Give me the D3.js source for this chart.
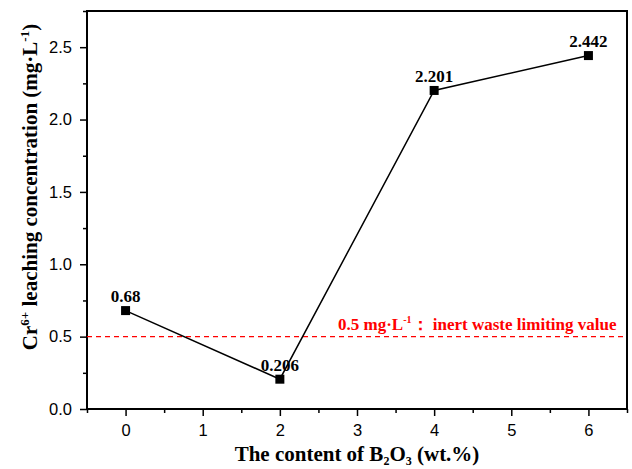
<!DOCTYPE html>
<html><head><meta charset="utf-8">
<script src="https://cdn.jsdelivr.net/npm/d3@7"></script>
<style>body{margin:0;background:#fff}</style>
</head><body>
<script>
const xValues = [0, 2, 4, 6];
const yValues = [0.68, 0.206, 2.201, 2.442];
const pointLabels = ["0.68", "0.206", "2.201", "2.442"];
const xTicks = [0, 1, 2, 3, 4, 5, 6];
const yTicks = [0.0, 0.5, 1.0, 1.5, 2.0, 2.5];
const limitValue = 0.5;

const W = 632, H = 469;
const m = {l: 87, r: 5, t: 11, b: 60};
const svg = d3.select("body").append("svg").attr("width", W).attr("height", H);
const x = d3.scaleLinear().domain([-0.5, 6.5]).range([m.l, W - m.r]);
const y = d3.scaleLinear().domain([0, 2.75]).range([H - m.b, m.t]);

const gx = svg.append("g").attr("transform", `translate(0,${H - m.b})`);
gx.call(d3.axisBottom(x).tickValues(d3.range(-0.5, 6.51, 0.5)).tickSize(4).tickFormat(""));
gx.call(g => g.selectAll(".tick").filter(d => Number.isInteger(d)).select("line").attr("y2", 7));
gx.append("g").call(d3.axisBottom(x).tickValues(xTicks).tickSize(0).tickPadding(15).tickFormat(d3.format("d")));
const gy = svg.append("g").attr("transform", `translate(${m.l},0)`);
gy.call(d3.axisLeft(y).tickValues(d3.range(0, 2.751, 0.25)).tickSize(4).tickFormat(""));
gy.call(g => g.selectAll(".tick").filter(d => Math.abs(d*2 - Math.round(d*2)) < 1e-6).select("line").attr("x2", -7));
gy.append("g").call(d3.axisLeft(y).tickValues(yTicks).tickSize(0).tickPadding(15).tickFormat(d3.format(".1f")));
svg.selectAll(".domain").remove();
svg.selectAll(".tick line").attr("stroke", "#000").attr("stroke-width", 1.5);
svg.selectAll(".tick text").attr("font-family", "Liberation Sans, Arial").attr("font-size", 16.5).attr("fill", "#000");

svg.append("rect").attr("x", m.l).attr("y", m.t).attr("width", W - m.r - m.l).attr("height", H - m.b - m.t)
  .attr("fill", "none").attr("stroke", "#000").attr("stroke-width", 2);

svg.append("line").attr("x1", m.l).attr("x2", W - m.r).attr("y1", y(limitValue)).attr("y2", y(limitValue))
  .attr("stroke", "#ff0000").attr("stroke-width", 1.3).attr("stroke-dasharray", "5,4");

const data = xValues.map((v, i) => ({x: v, y: yValues[i], l: pointLabels[i]}));
svg.append("path").datum(data).attr("fill", "none").attr("stroke", "#000").attr("stroke-width", 1.5)
  .attr("d", d3.line().x(d => x(d.x)).y(d => y(d.y)));
svg.selectAll(".pt").data(data).enter().append("rect")
  .attr("x", d => x(d.x) - 4.5).attr("y", d => y(d.y) - 4.5).attr("width", 9).attr("height", 9).attr("fill", "#000");
svg.selectAll(".lb").data(data).enter().append("text")
  .attr("x", d => x(d.x)).attr("y", d => y(d.y) - 8.5).attr("text-anchor", "middle")
  .attr("font-family", "Liberation Serif, Times New Roman").attr("font-weight", "bold").attr("font-size", 17)
  .text(d => d.l);

const rt = svg.append("text").attr("x", 338).attr("y", 330).attr("fill", "#ff0000")
  .attr("font-family", "Liberation Serif, Times New Roman").attr("font-weight", "bold").attr("font-size", 17);
rt.append("tspan").text("0.5 mg·L");
rt.append("tspan").attr("dy", -7).attr("font-size", 10).text("-1");
rt.append("tspan").attr("dy", 7).text("：  inert waste limiting value");

const xt = svg.append("text").attr("x", (m.l + W - m.r) / 2).attr("y", 461).attr("text-anchor", "middle")
  .attr("font-family", "Liberation Serif, Times New Roman").attr("font-weight", "bold").attr("font-size", 21);
xt.append("tspan").text("The content of B");
xt.append("tspan").attr("dy", 4).attr("font-size", 12).text("2");
xt.append("tspan").attr("dy", -4).text("O");
xt.append("tspan").attr("dy", 4).attr("font-size", 12).text("3");
xt.append("tspan").attr("dy", -4).text(" (wt.%)");

const yt = svg.append("text").attr("transform", `translate(37,187) rotate(-90)`)
  .attr("text-anchor", "middle")
  .attr("font-family", "Liberation Serif, Times New Roman").attr("font-weight", "bold").attr("font-size", 21);
yt.append("tspan").text("Cr");
yt.append("tspan").attr("dy", -8).attr("font-size", 13).text("6+");
yt.append("tspan").attr("dy", 8).text(" leaching concentration (mg·L");
yt.append("tspan").attr("dy", -8).attr("font-size", 13).text("-1");
yt.append("tspan").attr("dy", 8).text(")");
</script>
</body></html>
